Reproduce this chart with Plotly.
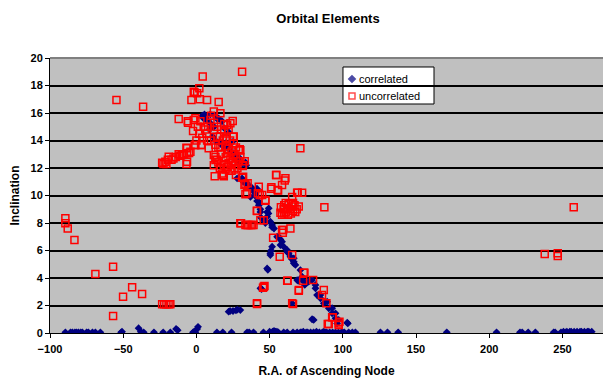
import plotly.graph_objects as go

# ---------------- data ----------------
corr_x = [
    -89.5, -86, -84.7, -83, -82, -80.6, -79, -77.9, -75, -73.8, -71, -69, -65.6, -51.4, -50.8,
    -36, -29, -22.7, -17.8, -2.3, -1.5, -0.7, 14, 18, 24, 34.6, 36, 39, 45.8, 50, 52, 53, 54,
    55, 56, 59.6, 62, 66, 68.8, 71, 72, 73, 75, 76, 78, 80, 82, 84, 86, 87, 88, 89, 91, 93,
    95, 97, 99, 100, 101, 104, 106.5, 108.6, 125.7, 130.5, 137.8, 171, 205, 221, 222.5, 226.6,
    231.5, 244, 245, 249, 250.7, 252, 253, 255, 256, 258, 260, 262, 263, 265, 267, 268, 270,
    -39.5, -38, -13.9, -12.8, 1.1, 0.5, 103.4,
    5, 6.1, 8, 10, 12, 14, 15.2, 17.5, 9, 11, 13, 16, 18, 19.8, 21, 23.2, 24.4, 24, 25, 26, 27,
    28.7, 28.9, 30, 31.5, 33.5, 34, 33.5, 27.8, 31.2, 32, 34.6, 34.6, 36.9, 38, 39, 41.4, 40,
    41.4, 42.6, 42.6, 43.7, 43.7, 44, 49.4, 49.2, 48.3, 48.3, 47.1, 45.9, 50.5, 51.7, 51.7, 53,
    55.1, 56.2, 57.4, 57.4, 58.5, 59.6, 61.9, 62, 63, 64.2, 65, 66.5, 66.5, 66.5, 67.6, 51.7,
    51, 50.5, 50.5, 48.3, 48.8, 43.7, 44.5, 68.8, 69.5, 71, 72.2, 72.2, 74, 75, 76.7, 79, 81.3,
    81.3, 82.4, 84.7, 84.7, 87, 89.3, 90.4, 92.7, 92.7, 95, 95, 96.1, 97.2, 103, 79, 80.1, 65.4,
    30, 28, 27, 23, 22, 25,
    4, 5.5, 7, 9.5, 12.5, 19, 22, 35.5, 37.5, 40.5,
]
corr_y = [
    0.05, 0.05, 0.05, 0.05, 0.05, 0.05, 0.05, 0.05, 0.05, 0.05, 0.05, 0.05, 0.05, 0.05, 0.1,
    0.05, 0.05, 0.05, 0.05, 0.05, 0.1, 0.05, 0.05, 0.05, 0.05, 0.05, 0.05, 0.05, 0.05, 0.1, 0.1,
    0.15, 0.1, 0.1, 0.05, 0.05, 0.05, 0.05, 0.05, 0.05, 0.05, 0.1, 0.05, 0.05, 0.05, 0.05, 0.1,
    0.05, 0.05, 0.1, 0.05, 0.05, 0.05, 0.05, 0.05, 0.05, 0.05, 0.05, 0.05, 0.05, 0.05, 0.05,
    0.05, 0.05, 0.05, 0.05, 0.05, 0.05, 0.05, 0.05, 0.05, 0.05, 0.05, 0.05, 0.1, 0.05, 0.1,
    0.1, 0.1, 0.1, 0.1, 0.1, 0.1, 0.1, 0.1, 0.1, 0.1,
    0.35, 0.1, 0.3, 0.2, 0.45, 0.3, 0.7,
    15.6, 15.7, 15.4, 15.2, 15.0, 15.6, 15.6, 15.4, 14.8, 14.3, 14.0, 13.8, 13.6, 13.8, 13.5,
    13.9, 13.9, 13.2, 13.0, 12.8, 12.7, 12.8, 12.6, 12.4, 12.3, 12.4, 12.2, 12.3, 11.25, 11.25,
    11.0, 10.8, 10.9, 9.9, 10.5, 10.3, 10.5, 10.0, 9.6, 9.55, 9.3, 8.8, 9.0, 8.4, 9.07, 8.7,
    8.8, 8.46, 8.0, 8.2, 8.1, 7.7, 7.85, 7.6, 7.0, 7.0, 6.8, 6.4, 6.64, 6.28, 6.04, 5.9, 5.8,
    5.55, 5.4, 5.43, 5.19, 5.07, 4.95, 6.28, 6.0, 5.8, 5.67, 4.7, 4.6, 3.25, 3.2, 3.85, 3.8,
    4.58, 4.1, 3.85, 3.5, 3.7, 3.73, 3.85, 3.5, 3.25, 2.76, 2.76, 2.52, 2.16, 2.28, 1.8, 1.8,
    1.43, 1.43, 1.07, 0.7, 0.95, 0.75, 1.0, 0.95, 2.16,
    1.67, 1.7, 1.65, 1.6, 1.55, 1.6,
    15.8, 15.9, 15.5, 15.9, 15.8, 14.9, 14.6, 10.7, 10.6, 10.2,
]

unc_x = [
    -89.5, -89.5, -87.9, -83.3, -69, -56.9, -56.9, -50.1, -43.9, -37.1, -23.4, -22, -20.5, -19,
    -17.8, -54.6, -36.4,
    -23.4, -22.5, -21.2, -20.5, -19.5, -18.9, -17, -15.7, -14, -12.1, -11, -9.8, -8.5, -6.4, -5,
    -4.1, -6.8, -6.4, -6.8, -6.4, -12.1, -5.9, -5.7, -2.3, -1.8, -0.7, -1.2, -0.7, 3.4, 3.2,
    -3.4, -1.8, -1.2, 0.5, 2.0, 2.3, 4.3, 7.3, 15.2, 11.9, 16.4, 24.8, 23.2, 21, 25, 25.5, 28.9,
    29.6, 31.2, 71, 11.9, 12.5, 17.5, 18.7, 18.2, 13, 14, 8.4, 21, 21.4, 31.6, 31.9, 31.2, 32.8,
    33.5, 35, 34.6, 33.5, 42.6, 42, 43.3, 44.9, 47.1, 51, 51.2, 54.6, 54.4, 58.5, 55.5, 55.8,
    60.8, 60.3, 65.4, 68.8, 69.2, 72.2,
    2.7, 5, 7.3, 9.6, 11.9, 14.1, 16, 7.3, 16.4, 25.5, 30, 11.9, 21, 23.2, 25, 13, 15, 18.7, 22,
    31.8, 10, 12, 14, 17, 19, 20, 18, 20, 22, 24, 26, 27, 24, 28, 29, 26, 16, 17, 15, 13, 10, 8,
    6, 4, 2, 0, 1, 19, 22, 23, 27, 30, 33, 20, 24, 26, 27, 20,
    57.7, 57.4, 58.5, 59.5, 60, 61, 62, 62.5, 63, 64, 64.5, 65, 66, 67, 67.5, 68.5, 69.9, 66, 61,
    60, 87.4, 41.3, 41.4, 30.5, 30, 33.5, 34.6, 35.5, 37, 38, 39, 43.7, 46, 47.1, 58.5, 59.2, 59,
    64.2, 52.4, 56.9, 65.4, 73.8, 73.3, 62.3, 62, 72.9, 79.7, 70, 69.9, 87, 85.8, 88.8, 46,
    45.5, 46.5, 41.4, 41.4, 65.4, 66, 93.1, 92.7, 89.7, 90.4, 97.2, 97.7, 97.2,
    257.7, 237.9, 246.8, 246.8,
]
unc_y = [
    8.34, 7.98, 7.6, 6.76, 4.29, 4.82, 1.24, 2.64, 3.32, 2.84, 2.09, 2.09, 2.09, 2.09, 2.09,
    16.95, 16.46,
    12.39, 12.3, 12.45, 12.29, 12.6, 12.82, 12.6, 12.7, 12.8, 13.0, 12.9, 12.95, 13.0, 13.07,
    13.1, 13.19, 12.3, 12.45, 13.48, 13.43, 15.56, 15.4, 15.3, 14.7, 15.49, 15.61, 13.67, 13.67,
    13.67, 13.67, 16.95, 17.55, 17.5, 17.43, 17.8, 17.0, 18.65, 16.95, 16.8, 16.1, 15.98, 15.42,
    15.25, 15.13, 14.28, 14.3, 13.3, 13.36, 19.0, 13.43, 12.2, 11.4, 11.6, 11.4, 11.5, 12.8,
    12.6, 13.43, 12.1, 12.05, 12.14, 11.37, 11.3, 10.76, 10.84, 10.9, 10.16, 10.1, 10.64, 10.16,
    10.04, 10.04, 9.62, 10.5, 10.6, 11.5, 11.5, 10.76, 10.4, 10.36, 11.25, 11.1, 9.9, 10.2,
    10.2, 10.2,
    15.4, 15.0, 14.5, 15.5, 14.76, 14.28, 14.3, 14.0, 13.55, 13.8, 13.3, 12.95, 13.07, 12.7,
    12.5, 12.58, 12.4, 12.2, 12.34, 12.2, 15.8, 15.3, 15.0, 14.8, 14.6, 14.2, 14.0, 13.6, 13.4,
    13.2, 13.0, 12.8, 12.4, 12.0, 12.5, 12.2, 12.0, 13.0, 13.5, 13.7, 14.0, 15.0, 14.8, 14.2,
    14.5, 14.0, 15.0, 15.2, 14.8, 14.0, 13.5, 12.8, 12.5, 12.8, 11.8, 11.9, 11.5, 11.9,
    9.14, 8.75, 8.6, 9.0, 9.3, 8.8, 9.1, 8.6, 9.4, 9.0, 8.7, 9.2, 8.9, 9.3, 8.8, 9.0, 9.2, 9.45,
    9.45, 8.7, 9.14, 8.9, 8.87, 7.98, 7.98, 7.85, 7.85, 7.85, 7.85, 7.85, 7.85, 8.2, 8.2, 9.67,
    7.49, 7.49, 7.3, 7.6, 6.93, 5.55, 5.67, 4.39, 4.39, 3.8, 3.8, 3.8, 3.85, 3.13, 3.08, 3.13,
    2.76, 2.16, 3.37, 3.3, 3.42, 2.16, 2.11, 2.16, 2.11, 1.14, 1.14, 0.65, 0.65, 0.7, 0.82, 0.58,
    9.14, 5.75, 5.8, 5.6,
]

x_ticks = [-100, -50, 0, 50, 100, 150, 200, 250]
y_ticks = [0, 2, 4, 6, 8, 10, 12, 14, 16, 18, 20]
series_names = ["correlated", "uncorrelated"]
series_colors = ["#000080", "#FF0000"]

FONT = "Liberation Sans, Arial, sans-serif"

fig = go.Figure()
fig.add_trace(go.Scatter(
    x=corr_x, y=corr_y, mode="markers", name=series_names[0],
    marker=dict(symbol="diamond", size=6, color=series_colors[0], line=dict(width=0)),
))
fig.add_trace(go.Scatter(
    x=unc_x, y=unc_y, mode="markers", name=series_names[1],
    marker=dict(symbol="square-open", size=7, color=series_colors[1],
                line=dict(width=1.5, color=series_colors[1])),
))

# legend key symbols on a hidden overlay axis (0..1 box coordinates)
fig.add_trace(go.Scatter(
    x=[0.5461, 0.5461], y=[0.9236, 0.8618], xaxis="x2", yaxis="y2", mode="markers",
    marker=dict(symbol=["diamond", "square-open"], size=[5, 6], color=series_colors,
                line=dict(width=1.5, color=series_colors)),
    hoverinfo="skip", showlegend=False,
))

fig.update_layout(
    width=603, height=383,
    margin=dict(l=50, r=0, t=58, b=50),
    paper_bgcolor="white",
    plot_bgcolor="#C0C0C0",
    font=dict(family=FONT, size=11, color="black"),
    title=dict(text="Orbital Elements", x=328 / 603, xanchor="center",
               xref="container", y=1 - 18 / 383, yref="container", yanchor="middle",
               font=dict(family=FONT, size=13, color="black", weight="bold")),
    showlegend=False,
    xaxis=dict(
        range=[-100, 277.7], tickvals=x_ticks,
        showgrid=False, zeroline=False, showline=True, linecolor="black", linewidth=1,
        ticks="outside", ticklen=4, tickcolor="black", automargin=False,
        ticklabelstandoff=2,
        title=dict(text="R.A. of Ascending Node", font=dict(family=FONT, size=12, weight="bold"),
                   standoff=12),
        tickfont=dict(family=FONT, size=11, weight="bold"),
    ),
    yaxis=dict(
        range=[0, 20], tickvals=y_ticks,
        showgrid=True, gridcolor="black", gridwidth=1.5, zeroline=False,
        showline=True, linecolor="black", linewidth=1,
        ticks="outside", ticklen=4, tickcolor="black", automargin=False,
        title=dict(text="Inclination", font=dict(family=FONT, size=12, weight="bold"), standoff=8),
        tickfont=dict(family=FONT, size=11, weight="bold"),
    ),
    xaxis2=dict(overlaying="x", range=[0, 1], visible=False),
    yaxis2=dict(overlaying="y", range=[0, 1], visible=False),
    shapes=[
        dict(type="line", xref="paper", yref="paper", x0=0, x1=1, y0=1, y1=1,
             line=dict(color="#808080", width=2)),
        dict(type="rect", xref="paper", yref="paper", x0=0.5298, x1=0.6944, y0=0.8327, y1=0.9673,
             fillcolor="white", line=dict(color="black", width=1), layer="between"),
    ],
    annotations=[
        dict(text=series_names[0], xref="paper", yref="paper", x=0.5552, y=0.9236,
             xanchor="left", yanchor="middle", showarrow=False,
             font=dict(family=FONT, size=11, color="black")),
        dict(text=series_names[1], xref="paper", yref="paper", x=0.5552, y=0.8618,
             xanchor="left", yanchor="middle", showarrow=False,
             font=dict(family=FONT, size=11, color="black")),
    ],
)

fig.write_html("out.html", config={"displayModeBar": False},
               post_script="document.body.style.margin='0px';")
